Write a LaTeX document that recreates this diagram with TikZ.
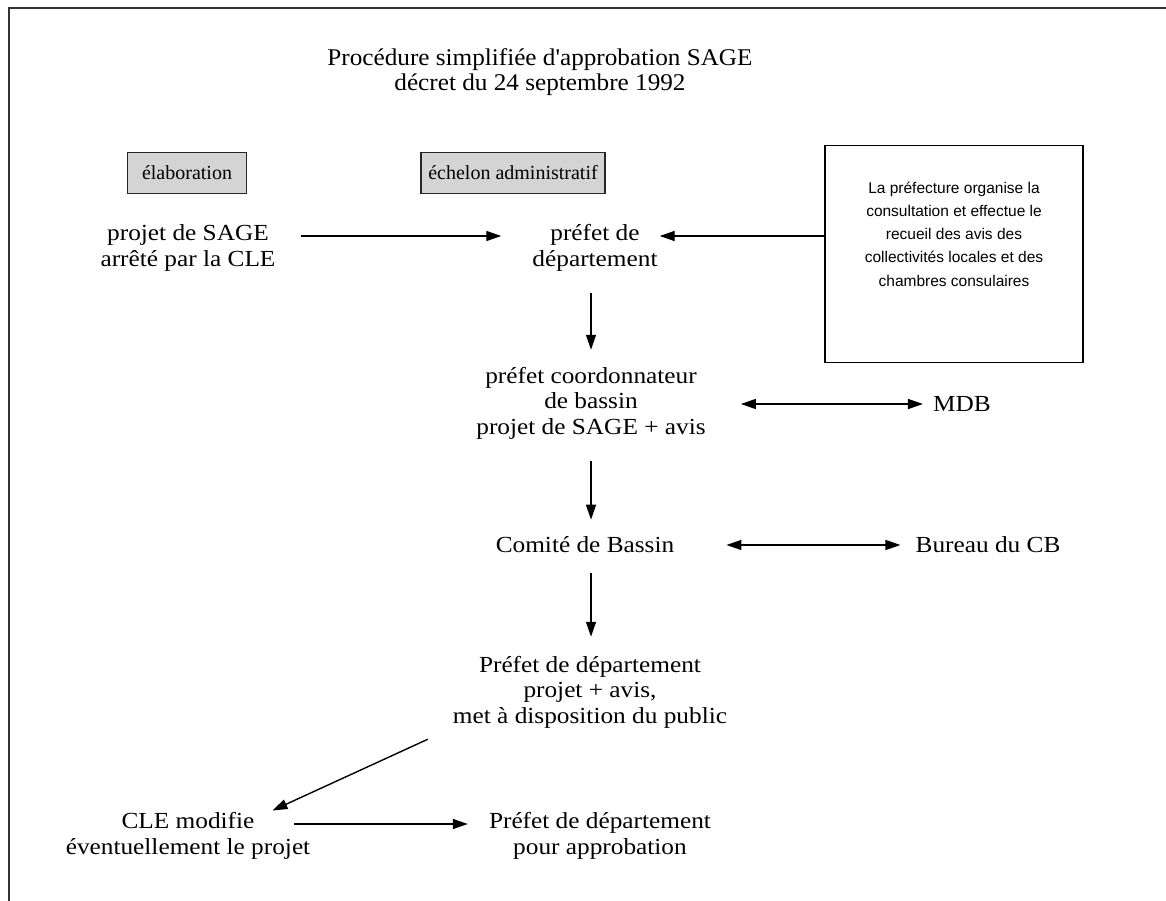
\documentclass[tikz,border=0pt]{standalone}
\usepackage{fontspec}
\setmainfont[FakeStretch=1.1]{Liberation Serif}
\newfontfamily\titlefont[FakeStretch=1.05]{Liberation Serif}
\newfontfamily\boxfont{Liberation Serif}
\newfontfamily\sansbox{Liberation Sans}
\usetikzlibrary{arrows.meta,calc}
\begin{document}
\begin{tikzpicture}[x=1pt,y=-1pt,
  txt/.style={inner sep=0pt,align=center,font=\fontsize{23}{25.5}\selectfont},
  hdr/.style={draw=black!85,line width=1.6pt,fill=black!17,minimum height=41pt,inner sep=0pt,font=\boxfont\fontsize{20}{22}\selectfont},
  arr/.style={line width=1.4pt,-{Triangle[length=15pt,width=10pt]}},
  darr/.style={line width=1.4pt,{Triangle[length=15pt,width=10pt]}-{Triangle[length=15pt,width=10pt]}}]
\useasboundingbox (0,0) rectangle (1166,901);
\draw[line width=1.8pt,black!80] (1166,8) -- (9,8) -- (9,901);
\node[inner sep=0pt,align=center,font=\titlefont\fontsize{24}{25}\selectfont] (title) at (540,72) {Procédure simplifiée d'approbation SAGE\\décret du 24 septembre 1992};
\node[hdr,minimum width=119pt] (elab) at (187,173) {élaboration};
\node[hdr,minimum width=184pt] (echelon) at (513,173) {échelon administratif};
\node[draw,line width=1.5pt,minimum width=258pt,minimum height=217pt] (prefbox) at (954,254) {};
\node[inner sep=0pt,align=center,font=\sansbox\fontsize{15.5}{23.3}\selectfont] (preftext) at (954,234) {La préfecture organise la\\consultation et effectue le\\recueil des avis des\\collectivités locales et des\\chambres consulaires};
\node[txt] (projet) at (188,248) {projet de SAGE\\arrêté par la CLE};
\node[txt] (prefet) at (595,248) {préfet de\\département};
\node[txt] (coord) at (591,403) {préfet coordonnateur\\de bassin\\projet de SAGE + avis};
\node[txt] (mdb) at (962,404) {MDB};
\node[txt] (comite) at (585,545) {Comité de Bassin};
\node[txt] (bureau) at (988,545) {Bureau du CB};
\node[txt] (pdep) at (590,692) {Préfet de département\\projet + avis,\\met à disposition du public};
\node[txt] (cle) at (188,836) {CLE modifie\\éventuellement le projet};
\node[txt] (appro) at (600,836) {Préfet de département\\pour approbation};
% connectors
\draw[arr] ($(projet.east)+(25,-12)$) -- ($(prefet.west)+(-31,-12)$);
\draw[arr] ($(prefbox.west)+(0,-18)$) -- ($(prefet.east)+(2,-12)$);
\draw[arr] ($(prefet.south)+(-4,22)$) -- ($(coord.north)+(0,-17)$);
\draw[darr] ($(coord.east)+(35,1)$) -- ($(mdb.west)+(-10,0)$);
\draw[arr] ($(coord.south)+(0,22)$) -- ($(coord.south |- comite.north)+(0,-17)$);
\draw[darr] ($(comite.east)+(52,0)$) -- ($(bureau.west)+(-15,0)$);
\draw[arr] ($(comite.south -| coord.south)+(0,20)$) -- ($(coord.south |- pdep.north)+(0,-19)$);
\draw[arr] ($(pdep.south west)+(-25,11)$) -- ($(cle.north east)+(-38,-2)$);
\draw[arr] ($(cle.east)+(-16,-12)$) -- ($(appro.west)+(-21,-12)$);
\end{tikzpicture}
\end{document}
